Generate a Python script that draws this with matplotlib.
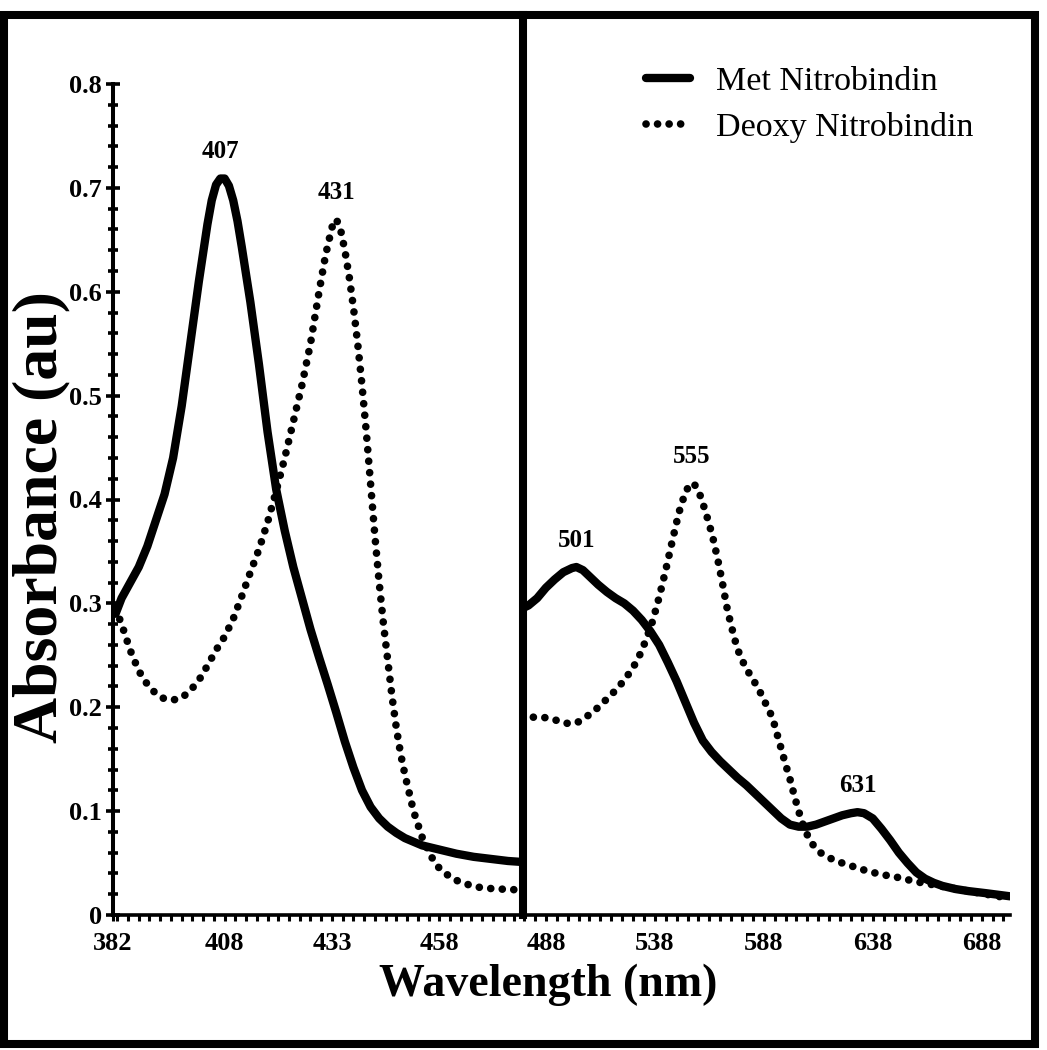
import numpy as np
import matplotlib
matplotlib.use("Agg")
import matplotlib.pyplot as plt
from matplotlib.lines import Line2D
from matplotlib.patches import Rectangle
from matplotlib.ticker import FixedLocator, MultipleLocator, FuncFormatter

plt.rcParams["font.family"] = ["Liberation Serif", "DejaVu Serif"]

# ---- data (wavelength nm, absorbance au) ----
met_left_nm = [382.6, 384, 386, 388, 390, 392, 394, 396, 398, 400, 402, 404, 405, 406, 407,
               408, 409, 410, 411, 412, 414, 416, 418, 420, 422, 424, 426, 428, 430, 432, 434,
               436, 438, 440, 442, 444, 446, 448, 450, 454, 458, 462, 466, 470, 474, 477.5]
met_left_abs = [0.29, 0.305, 0.32, 0.335, 0.355, 0.38, 0.405, 0.44, 0.49, 0.55, 0.61, 0.665,
                0.688, 0.703, 0.709, 0.709, 0.702, 0.688, 0.668, 0.643, 0.59, 0.53, 0.465,
                0.41, 0.37, 0.335, 0.305, 0.275, 0.248, 0.222, 0.195, 0.167, 0.142, 0.12,
                0.104, 0.093, 0.085, 0.079, 0.074, 0.067, 0.063, 0.059, 0.056, 0.054, 0.052,
                0.051]

deoxy_left_nm = [382.6, 384, 386, 388, 390, 392, 394, 396, 398, 400, 402, 404, 406, 408,
                 410, 412, 414, 416, 418, 420, 422, 424, 426, 428, 430, 431.5, 433, 434,
                 435, 436, 437, 438, 439, 440, 441, 442, 443, 444, 445, 446, 447, 448,
                 449, 450, 452, 454, 456, 458, 461, 464, 468, 472, 477.5]
deoxy_left_abs = [0.295, 0.28, 0.255, 0.235, 0.222, 0.213, 0.208, 0.207, 0.209, 0.216,
                  0.226, 0.24, 0.255, 0.268, 0.285, 0.307, 0.33, 0.352, 0.378, 0.408,
                  0.44, 0.475, 0.51, 0.55, 0.6, 0.635, 0.662, 0.67, 0.66, 0.64, 0.615,
                  0.585, 0.55, 0.51, 0.465, 0.415, 0.365, 0.32, 0.28, 0.245, 0.21, 0.18,
                  0.155, 0.135, 0.1, 0.075, 0.057, 0.045, 0.035, 0.03, 0.026, 0.025, 0.024]

met_right_nm = [477, 480, 484, 488, 492, 496, 500, 502, 505, 508, 512, 516, 520, 524, 528,
                532, 536, 540, 544, 548, 552, 556, 560, 564, 568, 572, 576, 580, 584, 588,
                592, 596, 600, 604, 608, 612, 616, 620, 624, 628, 631, 634, 638, 642, 646,
                650, 654, 658, 662, 666, 670, 676, 682, 690, 701]
met_right_abs = [0.295, 0.298, 0.305, 0.315, 0.323, 0.33, 0.334, 0.335, 0.332, 0.326, 0.318,
                 0.311, 0.305, 0.3, 0.293, 0.284, 0.273, 0.26, 0.243, 0.225, 0.205, 0.185,
                 0.168, 0.157, 0.148, 0.14, 0.132, 0.125, 0.117, 0.109, 0.101, 0.093, 0.087,
                 0.085, 0.085, 0.087, 0.09, 0.093, 0.096, 0.098, 0.099, 0.098, 0.093, 0.083,
                 0.072, 0.06, 0.05, 0.041, 0.035, 0.031, 0.028, 0.025, 0.023, 0.021, 0.018]

deoxy_right_nm = [477, 480, 484, 488, 492, 496, 500, 503, 506, 510, 514, 518, 522, 526, 530,
                  534, 537, 540, 543, 546, 549, 552, 554, 555, 556, 557, 559, 561, 563, 565,
                  567, 569, 571, 573, 575, 577, 580, 583, 586, 589, 592, 594, 596, 598, 600,
                  602, 604, 606, 608, 610, 614, 618, 624, 630, 636, 642, 650, 658, 666, 674,
                  682, 690, 701]
deoxy_right_abs = [0.19, 0.191, 0.19, 0.19, 0.188, 0.185, 0.184, 0.186, 0.19, 0.196, 0.204,
                   0.212, 0.221, 0.232, 0.245, 0.265, 0.283, 0.306, 0.332, 0.36, 0.387, 0.407,
                   0.414, 0.416, 0.415, 0.412, 0.403, 0.39, 0.376, 0.36, 0.341, 0.32, 0.297,
                   0.279, 0.263, 0.25, 0.237, 0.227, 0.216, 0.203, 0.19, 0.175, 0.16, 0.145,
                   0.131, 0.115, 0.1, 0.087, 0.077, 0.069, 0.06, 0.055, 0.05, 0.046, 0.042,
                   0.039, 0.036, 0.032, 0.029, 0.026, 0.023, 0.02, 0.016]

left_ticks = [382, 408, 433, 458]
right_ticks = [488, 538, 588, 638, 688]
# peak label, series, search window
peaks = [("407", "met_left", (400, 415)), ("431", "deoxy_left", (425, 440)),
         ("501", "met_right", (490, 515)), ("555", "deoxy_right", (545, 565)),
         ("631", "met_right", (620, 645))]

series = {
    "met_left": (met_left_nm, met_left_abs),
    "deoxy_left": (deoxy_left_nm, deoxy_left_abs),
    "met_right": (met_right_nm, met_right_abs),
    "deoxy_right": (deoxy_right_nm, deoxy_right_abs),
}

W, H = 1047, 1050
fig = plt.figure(figsize=(W / 100, H / 100), dpi=100)

y0, y1 = 915, 84          # pixel rows of 0 and 0.8
xl0, xdiv, xr1 = 113, 523, 1010
ax1 = fig.add_axes([xl0 / W, (H - y0) / H, (xdiv - xl0) / W, (y0 - y1) / H])
ax2 = fig.add_axes([xdiv / W, (H - y0) / H, (xr1 - xdiv) / W, (y0 - y1) / H])

solid_kw = dict(color="black", lw=6, solid_capstyle="round", solid_joinstyle="round")
dot_kw = dict(color="black", lw=5.5, ls=(0, (0.01, 1.5)), dash_capstyle="round")

ax1.plot(met_left_nm, met_left_abs, **solid_kw)
ax1.plot(deoxy_left_nm, deoxy_left_abs, **dot_kw)
ax2.plot(met_right_nm, met_right_abs, **solid_kw, label="Met Nitrobindin")
ax2.plot(deoxy_right_nm, deoxy_right_abs, **dot_kw, label="Deoxy Nitrobindin")

ax1.set_xlim(382, 477.5)
ax2.set_xlim(477.5, 701)
for ax in (ax1, ax2):
    ax.set_ylim(0, 0.8)
    ax.spines["top"].set_visible(False)
    ax.spines["right"].set_visible(False)
    ax.spines["bottom"].set_linewidth(2.6)
    ax.tick_params(axis="x", which="both", direction="out", length=4, width=2.2,
                   labelsize=19, pad=8)

ax1.spines["left"].set_linewidth(2.9)
ax2.spines["left"].set_visible(False)
ax2.set_yticks([])

ax1.xaxis.set_major_locator(FixedLocator(left_ticks))
ax1.xaxis.set_minor_locator(FixedLocator(np.arange(383, 478, 2.5)))
ax2.xaxis.set_major_locator(FixedLocator(right_ticks))
ax2.xaxis.set_minor_locator(FixedLocator(np.arange(478, 701, 5)))

ax1.yaxis.set_major_locator(MultipleLocator(0.1))
ax1.yaxis.set_minor_locator(MultipleLocator(0.02))
ax1.yaxis.set_major_formatter(FuncFormatter(lambda v, _: "0" if abs(v) < 1e-9 else f"{v:.1f}"))
ax1.tick_params(axis="y", which="major", direction="inout", length=10, width=2.6,
                labelsize=19, pad=3)
ax1.tick_params(axis="y", which="minor", direction="inout", length=7, width=2.6)

for ax in (ax1, ax2):
    for t in ax.get_xticklabels() + ax.get_yticklabels():
        t.set_fontweight("bold")

# peak labels
for label, key, (lo, hi) in peaks:
    nm, ab = np.array(series[key][0]), np.array(series[key][1])
    m = (nm >= lo) & (nm <= hi)
    i = np.argmax(ab[m])
    ax = ax1 if key.endswith("left") else ax2
    ax.annotate(label, xy=(nm[m][i], ab[m][i]), xytext=(0, 11), textcoords="offset points",
                ha="center", va="bottom", fontsize=18, fontweight="bold")

# legend
ax2.legend(loc="upper left", bbox_to_anchor=(646 / W, 1 - 66 / H),
           bbox_transform=fig.transFigure, frameon=False, fontsize=24.5,
           handlelength=1.3, handletextpad=0.75, labelspacing=0.45,
           borderpad=0, borderaxespad=0)

# axis titles
fig.text(41 / W, 1 - 517 / H, "Absorbance (au)", rotation=90, ha="center", va="center",
         fontsize=46, fontweight="bold")
fig.text(548 / W, 1 - 985 / H, "Wavelength (nm)", ha="center", va="center",
         fontsize=33, fontweight="bold")

# divider and outer frame
fig.add_artist(Line2D([xdiv / W, xdiv / W], [(H - y0) / H, 1 - 15 / H], color="black",
                      lw=5.8, transform=fig.transFigure))
fig.add_artist(Rectangle((3.5 / W, 1 - 1044 / H), (1035 - 3.5) / W, (1044 - 15) / H,
                         fill=False, edgecolor="black", lw=5.8, transform=fig.transFigure))

fig.savefig("out.png", dpi=100)
